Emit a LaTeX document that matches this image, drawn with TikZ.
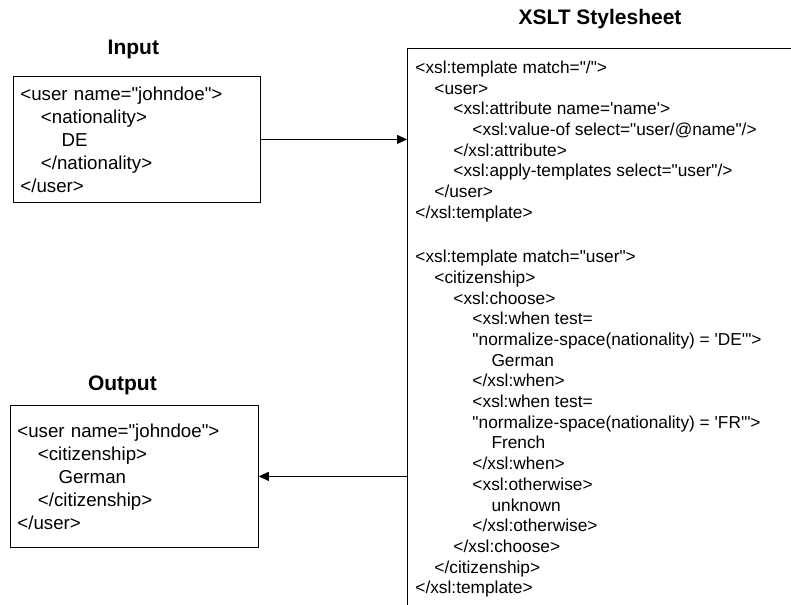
\documentclass[tikz,border=0pt]{standalone}
\usepackage{fontspec}
\setmainfont{Liberation Sans}[Ligatures=TeXOff]
\usetikzlibrary{arrows.meta,positioning}
\newcommand{\lvl}[1]{\hspace*{#1\dimexpr1.1em\relax}}

\begin{document}
\begin{tikzpicture}[x=1pt, y=-1pt, line width=0.8pt,
	xmlbox/.style={draw, anchor=north west, align=left, inner xsep=7pt, inner ysep=0pt, font=\fontsize{18.7}{23}\selectfont},
	sheettext/.style={anchor=north west, align=left, inner sep=0pt, font=\fontsize{17.3}{20.7}\selectfont},
	title/.style={inner sep=0pt, font=\fontsize{21}{25}\selectfont\bfseries},
	arr/.style={-{Triangle[length=10pt, width=9pt]}}]
	\useasboundingbox (0,0) rectangle (791,604);
	\clip (0,0) rectangle (791,604);
	
	% input document
	\node[xmlbox, text width=233pt, minimum height=126pt] (in) at (13,76) {<user name="johndoe">\\ \lvl1<nationality>\\ \lvl2DE\\ \lvl1</nationality>\\ </user>};
	\node[title, above=17pt of in, xshift=-3.5pt] (intitle) {Input};
%	
	% output document
	\node[xmlbox, text width=234pt, minimum height=142pt] (out) at (10,405) {<user name="johndoe">\\ \lvl1<citizenship>\\ \lvl2German\\ \lvl1</citizenship>\\ </user>};
	\node[title, above=10pt of out, xshift=-12pt] (outtitle) {Output};
%	
	% stylesheet
	\node[draw, anchor=north west, minimum width=420pt, minimum height=600pt] (sheetbox) at (407,48) {};
	\node[title, anchor=base] (sheettitle) at (600,25) {XSLT Stylesheet};
	\node[sheettext] (sheet) at (415,60.4) {<xsl:template match="/">\\
		\lvl1<user>\\
		\lvl2<xsl:attribute name='name'>\\
		\lvl3<xsl:value-of select="user/@name"/>\\
		\lvl2</xsl:attribute>\\
		\lvl2<xsl:apply-templates select="user"/>\\
		\lvl1</user>\\
		</xsl:template>\\
		~\\[3pt]
		<xsl:template match="user">\\
		\lvl1<citizenship>\\
		\lvl2<xsl:choose>\\
		\lvl3<xsl:when test=\\
		\lvl3"normalize-space(nationality) = 'DE'">\\
		\lvl4German\\
		\lvl3</xsl:when>\\
		\lvl3<xsl:when test=\\
		\lvl3"normalize-space(nationality) = 'FR'">\\
		\lvl4French\\
		\lvl3</xsl:when>\\
		\lvl3<xsl:otherwise>\\
		\lvl4unknown\\
		\lvl3</xsl:otherwise>\\
		\lvl2</xsl:choose>\\
		\lvl1</citizenship>\\
		</xsl:template>};
%	
	\draw[arr] (in.east) -- (in.east -| sheetbox.west);
	\draw[arr] (out.east -| sheetbox.west) -- (out.east);
\end{tikzpicture}
\end{document}
